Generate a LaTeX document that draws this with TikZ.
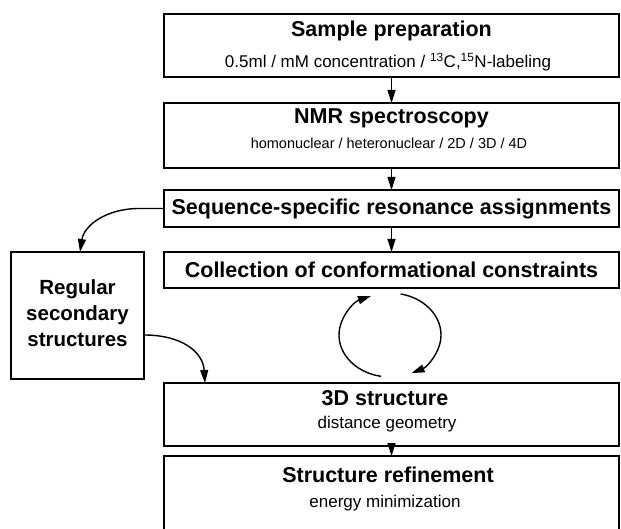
\documentclass[tikz,border=0pt]{standalone}
\usepackage{fontspec}
\setmainfont{Liberation Sans}
\usetikzlibrary{arrows.meta}

\tikzset{
  stage/.style={draw, line width=1.6pt, minimum width=455pt, inner sep=0pt, outer sep=0pt},
  title/.style={font=\fontsize{21.5}{24}\selectfont\bfseries, inner sep=0pt},
  detail/.style={font=\fontsize{17}{20}\selectfont, inner sep=0pt},
  flow/.style={line width=1.4pt, -{Triangle[length=13pt,width=8pt]}},
}

\begin{document}
\begin{tikzpicture}[x=1pt,y=-1pt]
\useasboundingbox (0,0) rectangle (621,529);

% main column of stages
\node[stage, minimum height=63pt] (prep) at (391.5,45.5) {};
\node[title]  (prepT) at (391.5,31) {Sample preparation};
\node[detail] (prepD) at (388,62) {0.5ml / mM concentration / \textsuperscript{13}C,\textsuperscript{15}N-labeling};

\node[stage, minimum height=65pt] (nmr) at (391.5,135.5) {};
\node[title]  (nmrT) at (391.5,118) {NMR spectroscopy};
\node[detail, font=\fontsize{14.5}{17}\selectfont] (nmrD) at (389,143) {homonuclear / heteronuclear / 2D / 3D / 4D};

\node[stage, minimum height=37pt] (seq) at (391.5,208.5) {};
\node[title]  (seqT) at (391.5,208.5) {Sequence-specific resonance assignments};

\node[stage, minimum height=36pt] (coll) at (391.5,270) {};
\node[title]  (collT) at (391.5,270) {Collection of conformational constraints};

\node[stage, minimum height=63pt] (struct) at (391.5,414.5) {};
\node[title]  (structT) at (385,398) {3D structure};
\node[detail] (structD) at (387,424) {distance geometry};

\node[stage, minimum height=84pt] (refine) at (391.5,498) {};
\node[title]  (refineT) at (388,475) {Structure refinement};
\node[detail] (refineD) at (385,503) {energy minimization};

% side box
\node[draw, line width=1.6pt, minimum width=133pt, minimum height=127pt,
      inner sep=0pt, outer sep=0pt] (reg) at (77.5,315.5) {};
\node[title, align=center, font=\fontsize{20.5}{26}\selectfont\bfseries]
  (regT) at (77.5,313.5) {Regular\\secondary\\structures};

% straight flow
\draw[flow] (prep.south) -- (nmr.north);
\draw[flow] (nmr.south) -- (seq.north);
\draw[flow] (seq.south) -- (coll.north);
\draw[flow] (struct.south) -- (refine.north);

% curved links through the side box
\coordinate (regIn) at (80,252);
\coordinate (regOut) at (144,335);
\coordinate (structIn) at (205,383);
\draw[flow] (seq.west) -- ++(-26,0) .. controls (105,209) and (84,226) .. (regIn);
\draw[flow] (regOut) .. controls (182,335) and (203,352) .. (structIn);

% iteration cycle between constraints and structure
\begin{scope}[shift={(390,335)}]
  \draw[flow] (100:51 and 42) arc[start angle=100, end angle=248, x radius=51, y radius=42];
  \draw[flow] (-78:51 and 42) arc[start angle=-78, end angle=65, x radius=51, y radius=42];
\end{scope}
\end{tikzpicture}
\end{document}
